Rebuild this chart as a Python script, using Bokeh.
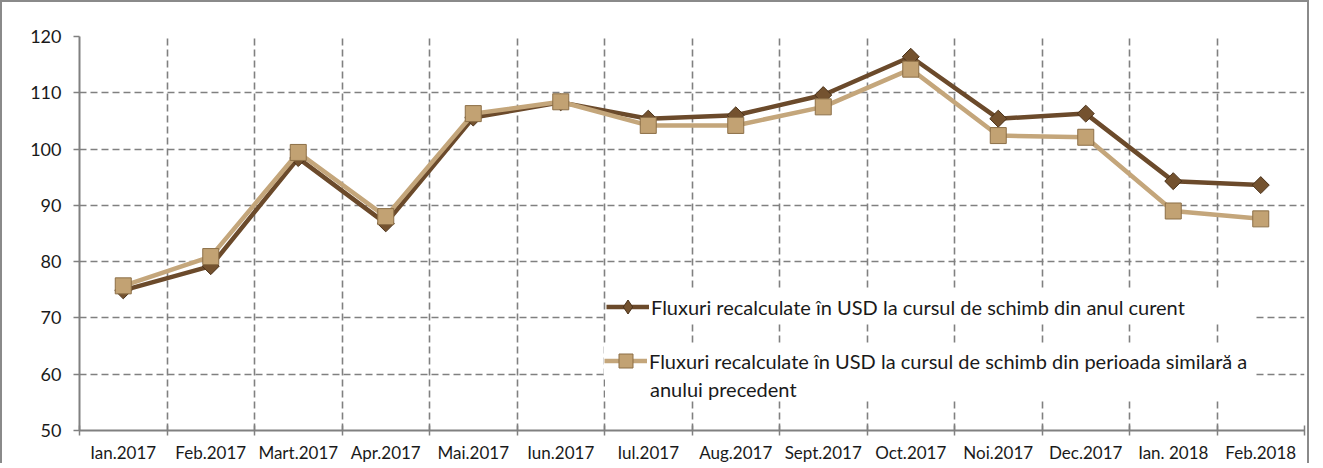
from bokeh.plotting import figure
from bokeh.models import Range1d, FixedTicker, Legend, LegendItem, ColumnDataSource
from bokeh.embed import file_html
from bokeh.resources import INLINE
import math

months = ["Ian.2017", "Feb.2017", "Mart.2017", "Apr.2017", "Mai.2017", "Iun.2017",
          "Iul.2017", "Aug.2017", "Sept.2017", "Oct.2017", "Noi.2017", "Dec.2017",
          "Ian. 2018", "Feb.2018"]
current = [74.9, 79.2, 98.4, 86.8, 105.6, 108.3, 105.4, 106.0, 109.6, 116.4, 105.4, 106.3, 94.3, 93.6]
previous = [75.7, 80.9, 99.4, 88.0, 106.3, 108.4, 104.2, 104.2, 107.5, 114.2, 102.4, 102.1, 89.0, 87.6]
y_ticks = [50, 60, 70, 80, 90, 100, 110, 120]
label_current = "Fluxuri recalculate în USD la cursul de schimb din anul curent"
label_previous_1 = "Fluxuri recalculate în USD la cursul de schimb din perioada similară a"
label_previous_2 = "anului precedent"

xs = [i + 0.5 for i in range(len(months))]
FONT = "Lato"
GRAY = "#808080"
DARK_LINE = "#6b4a2b"
DARK_FILL = "#74522f"
DARK_EDGE = "#4a3119"
LIGHT_LINE = "#c4a67b"
LIGHT_FILL = "#c2a273"
LIGHT_EDGE = "#8c6f47"

p = figure(width=1309, height=463, output_backend="svg", toolbar_location=None,
           x_range=Range1d(0, len(months)), y_range=Range1d(50, 120),
           min_border_left=77, min_border_right=7, min_border_top=34, min_border_bottom=30)
p.styles = {"border-top": "2px solid #8a8a8a", "border-left": "2px solid #8a8a8a",
            "border-right": "2px solid #8a8a8a"}
p.outline_line_color = None
p.background_fill_color = "white"
p.border_fill_color = "white"

# x axis: labels at centers, tick marks at boundaries
p.xaxis.ticker = FixedTicker(ticks=xs, minor_ticks=list(range(len(months) + 1)))
p.xaxis.major_label_overrides = {x: m for x, m in zip(xs, months)}
p.xaxis.major_tick_line_color = None
p.xaxis.major_tick_in = 0
p.xaxis.major_tick_out = 0
p.xaxis.minor_tick_line_color = GRAY
p.xaxis.minor_tick_line_width = 1.5
p.xaxis.minor_tick_in = 5
p.xaxis.minor_tick_out = 5
p.xaxis.axis_line_color = GRAY
p.xaxis.axis_line_width = 2
p.xaxis.major_label_standoff = 6
p.xaxis.major_label_text_font = FONT
p.xaxis.major_label_text_font_size = "17px"
p.xaxis.major_label_text_color = "#1a1a1a"

p.yaxis.ticker = FixedTicker(ticks=y_ticks)
p.yaxis.minor_tick_line_color = None
p.yaxis.major_tick_line_color = GRAY
p.yaxis.major_tick_line_width = 1.5
p.yaxis.major_tick_in = 0
p.yaxis.major_tick_out = 6
p.yaxis.axis_line_color = GRAY
p.yaxis.axis_line_width = 2
p.yaxis.major_label_standoff = 12
p.yaxis.major_label_text_font = FONT
p.yaxis.major_label_text_font_size = "18px"
p.yaxis.major_label_text_color = "#1a1a1a"

p.xgrid.ticker = FixedTicker(ticks=list(range(len(months) + 1)))
for g in (p.xgrid, p.ygrid):
    g.grid_line_color = GRAY
    g.grid_line_width = 1.6
    g.grid_line_dash = "7 4"
p.ygrid.ticker = FixedTicker(ticks=y_ticks)

src_cur = ColumnDataSource(data=dict(x=xs, y=current))
src_prev = ColumnDataSource(data=dict(x=xs, y=previous))

dark_line = p.line("x", "y", source=src_cur, line_color=DARK_LINE, line_width=4.5)
dark_mark = p.scatter("x", "y", source=src_cur, marker="square", angle=math.pi / 4, size=12,
                      fill_color=DARK_FILL, line_color=DARK_EDGE, line_width=1)
light_line = p.line("x", "y", source=src_prev, line_color=LIGHT_LINE, line_width=4.5)
light_mark = p.scatter("x", "y", source=src_prev, marker="square", size=16,
                       fill_color=LIGHT_FILL, line_color=LIGHT_EDGE, line_width=1)
# legend-only renderers (hidden / transparent in the plot)
dark_key = p.scatter("x", "y", source=src_cur, marker="diamond", visible=False,
                     fill_color=DARK_FILL, line_color=DARK_EDGE, line_width=1)
blank_key = p.line("x", "y", source=src_prev, line_alpha=0)


def make_legend(items, loc, glyph_h, pad):
    lg = Legend(items=items, location=loc, orientation="vertical")
    lg.background_fill_color = "white"
    lg.background_fill_alpha = 1
    lg.border_line_color = None
    lg.inactive_fill_alpha = 0
    lg.glyph_width = 43
    lg.glyph_height = glyph_h
    lg.label_height = 20
    lg.label_standoff = 2
    lg.label_width = 604
    lg.padding = pad
    lg.margin = 0
    lg.spacing = 0
    lg.label_text_font = FONT
    lg.label_text_font_size = "20px"
    lg.label_text_color = "#1a1a1a"
    p.add_layout(lg, "center")
    return lg


make_legend([LegendItem(label=label_current, renderers=[dark_line, dark_key])],
            (527, 106), 35, 14)
make_legend([LegendItem(label=label_previous_1, renderers=[light_line, light_mark])],
            (525, 52), 35, 6)
make_legend([LegendItem(label=label_previous_2, renderers=[blank_key])],
            (526, 29), 20, 2)

open("out.html", "w").write(file_html(p, INLINE))
